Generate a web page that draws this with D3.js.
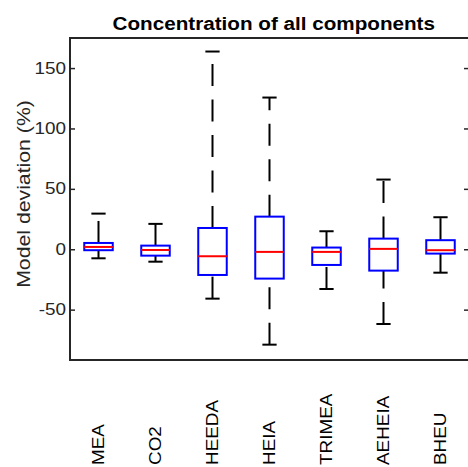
<!DOCTYPE html>
<html>
<head>
<meta charset="utf-8">
<script src="https://cdn.jsdelivr.net/npm/d3@7"></script>
<style>
body { margin: 0; background: #fff; }
svg { display: block; }
text { font-family: "Liberation Sans", Arial, Helvetica, sans-serif; }
</style>
</head>
<body>
<svg width="468" height="467"></svg>
<script>
var svg = d3.select("svg");

//component names along the x axis
var components = ["MEA", "CO2", "HEEDA", "HEIA", "TRIMEA", "AEHEIA", "BHEU"];

//box statistics (model deviation, %)
var lowerWhisker = [-7.5, -10.3, -40.9, -79.0, -32.9, -61.9, -19.4];
var q1 = [-0.8, -5.3, -21.3, -24.3, -13.0, -17.7, -3.6];
var medians = [1.9, -0.6, -5.8, -2.2, -2.2, 0.3, -0.8];
var q3 = [5.2, 3.0, 17.6, 27.0, 1.4, 8.8, 7.5];
var upperWhisker = [29.5, 21.0, 163.7, 125.6, 14.9, 57.7, 26.5];

var yTicks = [-50, 0, 50, 100, 150];

//text in the reference is drawn wider than Arial, stretch it a bit
var stretch = 1.18;

//plot area (no "top" name, window.top is taken)
var plotLeft = 70, plotRight = 469, plotTop = 38, plotBottom = 360;

var x = d3.scaleLinear().domain([0.5, components.length + 0.5]).range([plotLeft, plotRight]);
var y = d3.scaleLinear().domain([-91.7, 174.9]).range([plotBottom, plotTop]);

var axisColor = "#262626";

//group per component
var box = svg.append("g")
	.selectAll("g")
	.data(components)
	.enter().append("g");

var boxHalf = 0.25, capHalf = 0.125;

//whiskers go from the lower value to the upper value (dash pattern starts at bottom)
box.append("path")
	.attr("d", function (d, i) {
		return "M" + x(i + 1) + "," + y(q3[i]) + "L" + x(i + 1) + "," + y(upperWhisker[i]);
	})
	.attr("stroke", "black")
	.attr("stroke-width", 2)
	.attr("stroke-dasharray", "22,13.5");

box.append("path")
	.attr("d", function (d, i) {
		return "M" + x(i + 1) + "," + y(lowerWhisker[i]) + "L" + x(i + 1) + "," + y(q1[i]);
	})
	.attr("stroke", "black")
	.attr("stroke-width", 2)
	.attr("stroke-dasharray", "22,13.5");

//whisker caps
box.append("line")
	.attr("x1", function (d, i) { return x(i + 1 - capHalf); })
	.attr("x2", function (d, i) { return x(i + 1 + capHalf); })
	.attr("y1", function (d, i) { return y(upperWhisker[i]); })
	.attr("y2", function (d, i) { return y(upperWhisker[i]); })
	.attr("stroke", "black")
	.attr("stroke-width", 2);

box.append("line")
	.attr("x1", function (d, i) { return x(i + 1 - capHalf); })
	.attr("x2", function (d, i) { return x(i + 1 + capHalf); })
	.attr("y1", function (d, i) { return y(lowerWhisker[i]); })
	.attr("y2", function (d, i) { return y(lowerWhisker[i]); })
	.attr("stroke", "black")
	.attr("stroke-width", 2);

//boxes
box.append("rect")
	.attr("x", function (d, i) { return x(i + 1 - boxHalf); })
	.attr("y", function (d, i) { return y(q3[i]); })
	.attr("width", function (d, i) { return x(i + 1 + boxHalf) - x(i + 1 - boxHalf); })
	.attr("height", function (d, i) { return y(q1[i]) - y(q3[i]); })
	.attr("fill", "none")
	.attr("stroke", "#0000ff")
	.attr("stroke-width", 2);

//medians
box.append("line")
	.attr("x1", function (d, i) { return x(i + 1 - boxHalf); })
	.attr("x2", function (d, i) { return x(i + 1 + boxHalf); })
	.attr("y1", function (d, i) { return y(medians[i]); })
	.attr("y2", function (d, i) { return y(medians[i]); })
	.attr("stroke", "#ff0000")
	.attr("stroke-width", 2);

//axes box
svg.append("rect")
	.attr("x", plotLeft)
	.attr("y", plotTop)
	.attr("width", plotRight - plotLeft)
	.attr("height", plotBottom - plotTop)
	.attr("fill", "none")
	.attr("stroke", axisColor)
	.attr("stroke-width", 2);

//left axis, ticks inside, plain hyphen for negatives like matlab
var yAxisLeft = svg.append("g")
	.attr("transform", "translate(" + plotLeft + ",0)")
	.call(d3.axisLeft(y)
		.tickValues(yTicks)
		.tickSizeInner(-5)
		.tickSizeOuter(0)
		.tickPadding(4)
		.tickFormat(function (d) { return String(d); }));

//right axis ticks, inside
var yAxisRight = svg.append("g")
	.attr("transform", "translate(" + plotRight + ",0)")
	.call(d3.axisRight(y).tickValues(yTicks).tickSizeInner(-5).tickSizeOuter(0).tickFormat(""));

svg.selectAll(".domain").remove();
svg.selectAll(".tick line").attr("stroke", axisColor).attr("stroke-width", 1.5);

yAxisLeft.selectAll(".tick text")
	.attr("fill", axisColor)
	.style("font-size", "16px")
	.style("font-family", "'Liberation Sans', Arial, sans-serif");

//x labels, rotated, starting from the bottom
svg.append("g")
	.selectAll("text")
	.data(components)
	.enter().append("text")
	.attr("class", "xlabel")
	.attr("transform", function (d, i) { return "translate(" + x(i + 1) + ",465) rotate(-90)"; })
	.attr("dy", "0.36em")
	.attr("text-anchor", "start")
	.attr("fill", "black")
	.style("font-size", "16px")
	.text(function (d) { return d; });

//y label
svg.append("text")
	.attr("transform", "translate(29.5,194) rotate(-90)")
	.attr("text-anchor", "middle")
	.attr("fill", axisColor)
	.style("font-size", "18px")
	.text("Model deviation (%)");

//title
svg.append("text")
	.attr("x", 273.8)
	.attr("y", 29.5)
	.attr("text-anchor", "middle")
	.attr("fill", "black")
	.style("font-size", "17.5px")
	.style("font-weight", "bold")
	.text("Concentration of all components");

//widen every text to match the reference
svg.selectAll("text").each(function () {
	var t = d3.select(this);
	var len = this.getComputedTextLength();
	if (len > 0) {
		t.attr("textLength", len * stretch).attr("lengthAdjust", "spacingAndGlyphs");
	}
});
</script>
</body>
</html>
